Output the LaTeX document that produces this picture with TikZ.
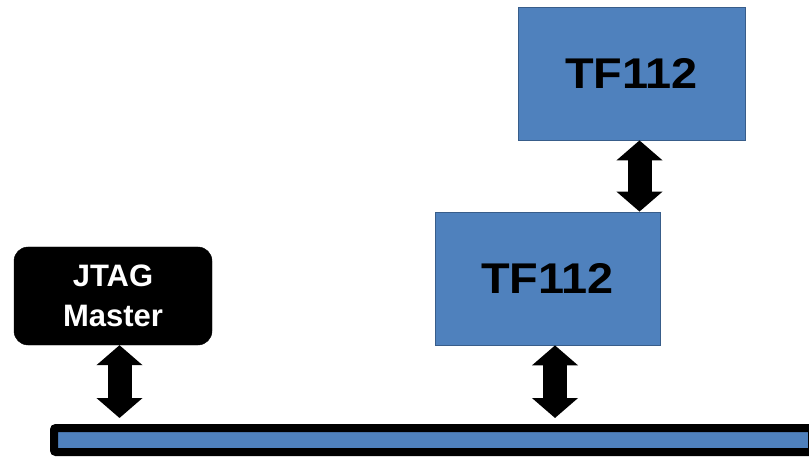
\documentclass[tikz,border=0pt]{standalone}
\usepackage{fontspec}
\setmainfont{Liberation Sans}
\usetikzlibrary{arrows.meta}
\definecolor{chipblue}{HTML}{4F81BD}
\definecolor{chipedge}{HTML}{385D8A}
\newcommand{\chiplabel}[1]{\scalebox{1.09}[1]{#1}}
\begin{document}
\begin{tikzpicture}[x=1pt,y=-1pt,
  chip/.style={draw=chipedge, line width=0.8pt, fill=chipblue, inner sep=0pt,
    font=\bfseries\fontsize{43}{43}\selectfont, text=black},
  master/.style={draw=black, fill=black, rounded corners=14pt, inner sep=0pt,
    align=center, text=white, font=\bfseries\fontsize{31}{40}\selectfont},
  busbar/.style={draw=black, line width=8pt, fill=chipblue, rounded corners=2pt, inner sep=0pt},
  link/.style={line width=24pt,
    {Triangle[width=45pt,length=20pt]}-{Triangle[width=45pt,length=20pt]}}]
  \useasboundingbox (0,0) rectangle (809,457);
  % devices
  \node[chip, minimum width=227pt, minimum height=133pt] (tfA) at (631.5,73.5) {\chiplabel{TF112}};
  \node[chip, minimum width=225pt, minimum height=133pt] (tfB) at (547.5,278.5) {\chiplabel{TF112}};
  \node[master, minimum width=198pt, minimum height=98pt] (jtag) at (113,296) {JTAG\\Master};
  % shared bus
  \node[busbar, minimum width=758pt, minimum height=24pt] (bus) at (433,440) {};
  % links
  \draw[link] ([xshift=8pt]tfA.south) -- ([xshift=8pt]tfA.south |- tfB.north);
  \draw[link, shorten >=6pt] ([xshift=7.5pt]tfB.south) -- ([xshift=7.5pt]tfB.south |- bus.north);
  \draw[link, shorten >=6pt] ([xshift=6.5pt]jtag.south) -- ([xshift=6.5pt]jtag.south |- bus.north);
\end{tikzpicture}
\end{document}
